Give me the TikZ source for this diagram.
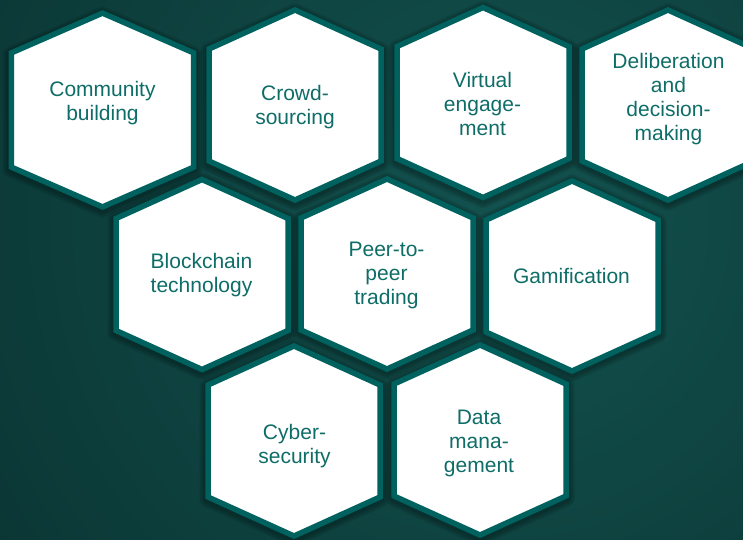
\documentclass[tikz,border=0pt]{standalone}
\usepackage{fontspec}
\setmainfont{Liberation Sans}
\definecolor{bgin}{HTML}{13524F}
\definecolor{bgout}{HTML}{062927}
\definecolor{hexline}{HTML}{00625E}
\definecolor{hextext}{HTML}{0F6D68}
\tikzset{
  hexshape/.style={draw=hexline, line width=5.5pt, fill=white, line join=miter},
  hexshadow/.style={draw=black, opacity=0.10, line join=round},
  hexlabel/.style={font=\fontsize{21}{24}\selectfont, text=hextext, align=center, inner sep=0pt},
}
\newcommand\hexoutline{(0,-95) -- (86,-56) -- (86,56) -- (0,95) -- (-86,56) -- (-86,-56) -- cycle}
\begin{document}
\begin{tikzpicture}[x=1pt,y=-1pt]
\useasboundingbox (0,0) rectangle (743,539);
\begin{scope}
  \clip (0,0) rectangle (743,539);
  \shade[inner color=bgin, outer color=bgout] (500-900,220-900) rectangle (500+900,220+900);
\end{scope}
% hexagon centres
\coordinate (h1) at (102.5,110);
\coordinate (h2) at (295,105);
\coordinate (h3) at (483,102.5);
\coordinate (h4) at (668,105);
\coordinate (h5) at (202,274.5);
\coordinate (h6) at (387,274);
\coordinate (h7) at (572,276);
\coordinate (h8) at (294,441);
\coordinate (h9) at (480,440);
% shadows
\foreach \h in {h2,h3,h4,h5,h6,h7,h8,h9}{
  \foreach \w in {9,13,17}{
    \draw[hexshadow, line width=\w pt, shift={(\h)}, yshift=-2pt] \hexoutline;
  }
}
\foreach \w in {9,13,17}{
  \draw[hexshadow, line width=\w pt, shift={(h1)}, xscale=1.06, yscale=1.02, yshift=-2pt] \hexoutline;
}
% hexagons
\path[hexshape, shift={(h1)}, xscale=1.06, yscale=1.02] \hexoutline;
\foreach \h in {h2,h3,h4,h5,h6,h7,h8,h9}{
  \path[hexshape, shift={(\h)}] \hexoutline;
}
% labels
\node[hexlabel] (t1) at (102.5,103.5) {Community\\building};
\node[hexlabel] (t2) at (295,107.5) {Crowd-\\sourcing};
\node[hexlabel] (t3) at (482.5,103.5) {Virtual\\engage-\\ment};
\node[hexlabel] (t4) at (668.5,99) {Deliberation\\and\\decision-\\making};
\node[hexlabel] (t5) at (201.5,275) {Blockchain\\technology};
\node[hexlabel] (t6) at (386.5,275) {Peer-to-\\peer\\trading};
\node[hexlabel] (t7) at (571.5,276) {Gamification};
\node[hexlabel] (t8) at (294.5,446) {Cyber-\\security};
\node[hexlabel] (t9) at (479,443.5) {Data\\mana-\\gement};
\end{tikzpicture}
\end{document}
